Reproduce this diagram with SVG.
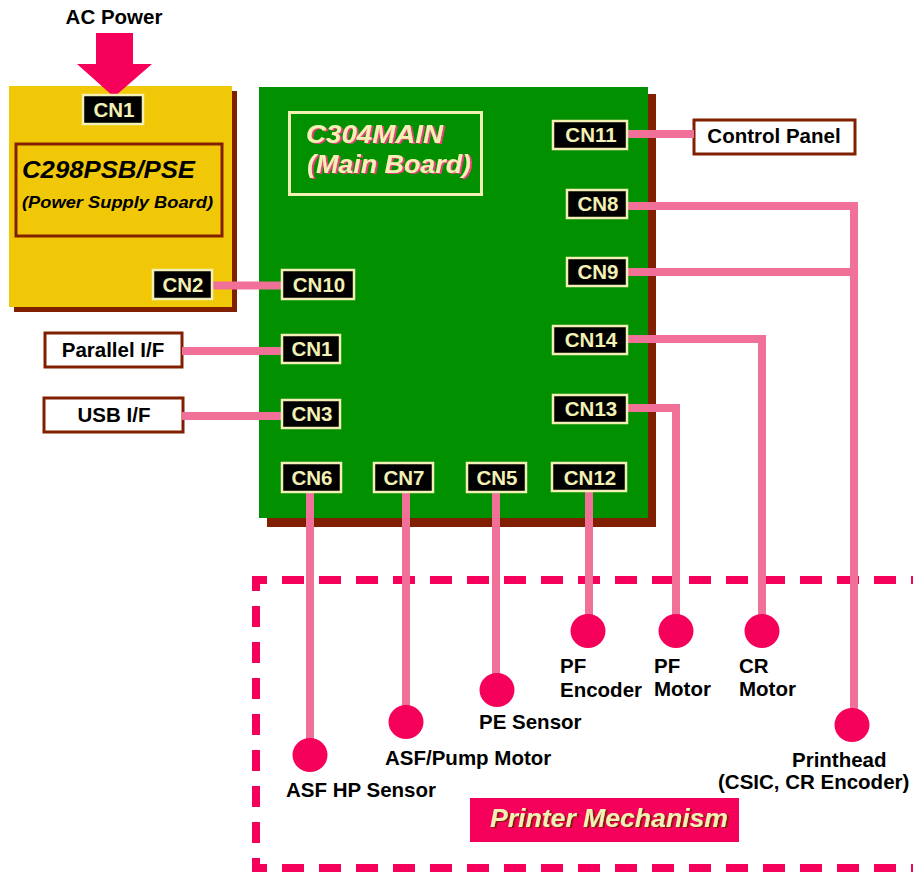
<svg xmlns="http://www.w3.org/2000/svg" width="913" height="872" viewBox="0 0 913 872">
<defs>
<filter id="pinkShadow" x="-5%" y="-10%" width="115%" height="130%">
  <feOffset in="SourceAlpha" dx="2" dy="1" result="o"/>
  <feFlood flood-color="#e8407c"/>
  <feComposite operator="in" in2="o" result="s"/>
  <feMerge><feMergeNode in="s"/><feMergeNode in="SourceGraphic"/></feMerge>
</filter>
<filter id="brownShadow" x="-5%" y="-10%" width="115%" height="130%">
  <feOffset in="SourceAlpha" dx="1.5" dy="1" result="o"/>
  <feFlood flood-color="#8a1a08"/>
  <feComposite operator="in" in2="o" result="s"/>
  <feMerge><feMergeNode in="s"/><feMergeNode in="SourceGraphic"/></feMerge>
</filter>
</defs>
<style>
text{font-family:"Liberation Sans",Arial,sans-serif;font-weight:bold}
.lbl{font-size:20.5px;fill:#000}
.cnbox{fill:#000;stroke:#f2f0b4;stroke-width:2.5}
.cn{font-size:20.5px;fill:#f2f0b4;text-anchor:middle}
.wire{fill:none;stroke:#f07098;stroke-width:8;stroke-linejoin:miter}
.dot{fill:#f5005a}
.ext{fill:#fff;stroke:#802000;stroke-width:3}
.dash{fill:none;stroke:#f5005a;stroke-width:8}
.it{font-style:italic}
</style>

<!-- Printer mechanism boundary -->
<g id="mechanism">
  <line class="dash" x1="252" y1="580" x2="913" y2="580" stroke-dasharray="22 15" stroke-dashoffset="7"/>
  <line class="dash" x1="252" y1="868" x2="913" y2="868" stroke-dasharray="22 15" stroke-dashoffset="7"/>
  <line class="dash" x1="256" y1="576" x2="256" y2="872" stroke-dasharray="21 15" stroke-dashoffset="6"/>
  <rect x="470" y="798" width="269" height="44" fill="#f5005a"/>
  <text x="490" y="827" font-size="25" class="it" fill="#f2f0b4" filter="url(#brownShadow)" textLength="238" lengthAdjust="spacingAndGlyphs">Printer Mechanism</text>
</g>

<!-- Power supply board -->
<g id="psb">
  <rect x="14" y="91" width="223" height="221" fill="#802000"/>
  <rect x="9" y="86" width="223" height="221" fill="#f0c808"/>
  <rect x="16" y="144" width="206" height="92" fill="none" stroke="#802000" stroke-width="3"/>
  <text x="22" y="178" font-size="24" class="it" fill="#000" textLength="173" lengthAdjust="spacingAndGlyphs">C298PSB/PSE</text>
  <text x="22" y="208" font-size="17" class="it" fill="#000" textLength="191" lengthAdjust="spacingAndGlyphs">(Power Supply Board)</text>
</g>

<!-- AC power -->
<g id="ac-power">
  <text x="114" y="24" class="lbl" text-anchor="middle">AC Power</text>
  <polygon points="96,33 133,33 133,64 152,64 114,97 77,64 96,64" fill="#f5005a"/>
</g>

<!-- Main board -->
<g id="main-board">
  <rect x="267" y="94" width="389" height="433" fill="#802000"/>
  <rect x="259" y="87" width="389" height="431" fill="#009000"/>
  <rect x="289.5" y="112.5" width="192" height="82" fill="none" stroke="#f2f0b4" stroke-width="3"/>
  <text x="306" y="143" font-size="25" class="it" fill="#f2f0b4" filter="url(#pinkShadow)" textLength="137" lengthAdjust="spacingAndGlyphs">C304MAIN</text>
  <text x="307" y="173" font-size="25" class="it" fill="#f2f0b4" filter="url(#pinkShadow)" textLength="164" lengthAdjust="spacingAndGlyphs">(Main Board)</text>
</g>

<!-- External boxes -->
<g id="parallel-if">
  <rect class="ext" x="45" y="333" width="137" height="34"/>
  <text x="113" y="357" class="lbl" text-anchor="middle">Parallel I/F</text>
</g>
<g id="usb-if">
  <rect class="ext" x="44" y="398" width="139" height="34"/>
  <text x="114" y="422" class="lbl" text-anchor="middle">USB I/F</text>
</g>
<g id="control-panel">
  <rect class="ext" x="694" y="120" width="161" height="34"/>
  <text x="774" y="143" class="lbl" text-anchor="middle">Control Panel</text>
</g>

<!-- Connectors -->
<g id="connectors">
  <polyline class="wire" points="212,285.5 282,285.5"/>
  <polyline class="wire" points="182,351 282,351"/>
  <polyline class="wire" points="182,416 282,416"/>
  <polyline class="wire" points="627,134 694,134"/>
  <polyline class="wire" points="627,206 854,206 854,725"/>
  <polyline class="wire" points="627,272 854,272"/>
  <polyline class="wire" points="627,339 762,339 762,631"/>
  <polyline class="wire" points="627,408 676,408 676,631"/>
  <polyline class="wire" points="589,491 589,631"/>
  <polyline class="wire" points="496,492 496,690"/>
  <polyline class="wire" points="406,492 406,722"/>
  <polyline class="wire" points="310,492 310,755"/>
</g>

<!-- Connector blocks -->
<g id="psb-cn1"><rect class="cnbox" x="83" y="95" width="60" height="29"/><text class="cn" x="114" y="117">CN1</text></g>
<g id="psb-cn2"><rect class="cnbox" x="153" y="270" width="59" height="29"/><text class="cn" x="183" y="292">CN2</text></g>
<g id="cn10"><rect class="cnbox" x="282" y="270" width="72" height="29"/><text class="cn" x="319" y="292">CN10</text></g>
<g id="cn1"><rect class="cnbox" x="282" y="335" width="58" height="28"/><text class="cn" x="312" y="356">CN1</text></g>
<g id="cn3"><rect class="cnbox" x="282" y="400" width="58" height="28"/><text class="cn" x="312" y="421">CN3</text></g>
<g id="cn11"><rect class="cnbox" x="553" y="121" width="74" height="28"/><text class="cn" x="591" y="142">CN11</text></g>
<g id="cn8"><rect class="cnbox" x="567" y="190" width="60" height="28"/><text class="cn" x="598" y="211">CN8</text></g>
<g id="cn9"><rect class="cnbox" x="567" y="258" width="60" height="28"/><text class="cn" x="598" y="279">CN9</text></g>
<g id="cn14"><rect class="cnbox" x="553" y="326" width="74" height="28"/><text class="cn" x="591" y="347">CN14</text></g>
<g id="cn13"><rect class="cnbox" x="553" y="395" width="74" height="28"/><text class="cn" x="591" y="416">CN13</text></g>
<g id="cn12"><rect class="cnbox" x="552" y="463" width="74" height="28"/><text class="cn" x="590" y="485">CN12</text></g>
<g id="cn6"><rect class="cnbox" x="282" y="463" width="59" height="29"/><text class="cn" x="312" y="485">CN6</text></g>
<g id="cn7"><rect class="cnbox" x="374" y="463" width="59" height="29"/><text class="cn" x="404" y="485">CN7</text></g>
<g id="cn5"><rect class="cnbox" x="467" y="463" width="59" height="29"/><text class="cn" x="497" y="485">CN5</text></g>

<!-- Mechanism components -->
<g id="asf-hp-sensor"><ellipse class="dot" cx="310" cy="755" rx="17.5" ry="17"/><text class="lbl" x="286" y="797">ASF HP Sensor</text></g>
<g id="asf-pump-motor"><ellipse class="dot" cx="406" cy="722" rx="17.5" ry="17"/><text class="lbl" x="385" y="765">ASF/Pump Motor</text></g>
<g id="pe-sensor"><ellipse class="dot" cx="497" cy="690" rx="17.5" ry="17"/><text class="lbl" x="479" y="729">PE Sensor</text></g>
<g id="pf-encoder"><ellipse class="dot" cx="588" cy="631" rx="17.5" ry="17"/><text class="lbl" x="560" y="673">PF</text><text class="lbl" x="560" y="697">Encoder</text></g>
<g id="pf-motor"><ellipse class="dot" cx="676" cy="631" rx="17.5" ry="17"/><text class="lbl" x="654" y="673">PF</text><text class="lbl" x="654" y="696">Motor</text></g>
<g id="cr-motor"><ellipse class="dot" cx="762" cy="631" rx="17.5" ry="17"/><text class="lbl" x="739" y="673">CR</text><text class="lbl" x="739" y="696">Motor</text></g>
<g id="printhead"><ellipse class="dot" cx="852" cy="725" rx="17.5" ry="17"/><text class="lbl" x="792" y="767">Printhead</text><text class="lbl" x="718" y="789">(CSIC, CR Encoder)</text></g>
</svg>
